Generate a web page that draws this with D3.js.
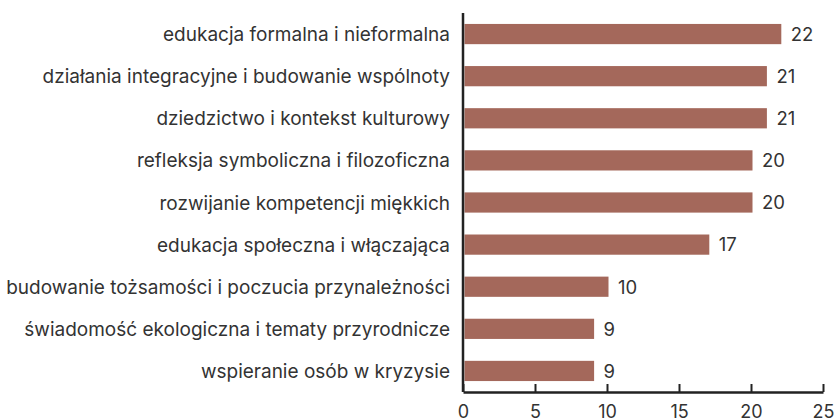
<!DOCTYPE html>
<html>
<head>
<meta charset="utf-8">
<script src="https://cdn.jsdelivr.net/npm/d3@7"></script>
<style>
  body { margin: 0; background: #fff; }
  svg { display: block; }
</style>
</head>
<body>
<div class="chart"></div>
<script>
const categories = [
    "edukacja formalna i nieformalna",
    "działania integracyjne i budowanie wspólnoty",
    "dziedzictwo i kontekst kulturowy",
    "refleksja symboliczna i filozoficzna",
    "rozwijanie kompetencji miękkich",
    "edukacja społeczna i włączająca",
    "budowanie tożsamości i poczucia przynależności",
    "świadomość ekologiczna i tematy przyrodnicze",
    "wspieranie osób w kryzysie"
];
const values = [22, 21, 21, 20, 20, 17, 10, 9, 9];
const xTicks = [0, 5, 10, 15, 20, 25];

const svgWidth = 837;
const svgHeight = 419;
const plotLeft = 463, plotRight = 823, plotTop = 13, plotBottom = 392;
const barColor = "#a4685b";
const font = "Inter, Roboto, sans-serif";

let svg = d3.select(".chart")
    .append("svg")
    .attr("width", svgWidth)
    .attr("height", svgHeight)

let xScale = d3.scaleLinear()
    .domain([0, 25])
    .range([plotLeft, plotRight])

let yScale = d3.scaleBand()
    .domain(categories)
    .range([plotTop, plotBottom])
    .paddingInner(0.52)
    .paddingOuter(0.26)

const data = categories.map((c, i) => ({ name: c, value: values[i] }));

svg.selectAll("rect.bar")
    .data(data)
    .enter()
    .append("rect")
    .attr("class", "bar")
    .attr("x", xScale(0) + 1.5)
    .attr("y", d => yScale(d.name))
    .attr("width", d => xScale(d.value) - xScale(0))
    .attr("height", yScale.bandwidth())
    .style("fill", barColor)

// value labels
svg.selectAll("text.value")
    .data(data)
    .enter()
    .append("text")
    .attr("class", "value")
    .attr("x", d => xScale(d.value) + 11)
    .attr("y", d => yScale(d.name) + yScale.bandwidth() / 2)
    .attr("dy", "0.37em")
    .style("font-family", font)
    .style("font-size", "18.5px")
    .style("fill", "#333")
    .text(d => d.value)

// category labels
svg.selectAll("text.cat")
    .data(data)
    .enter()
    .append("text")
    .attr("class", "cat")
    .attr("x", 450)
    .attr("y", d => yScale(d.name) + yScale.bandwidth() / 2)
    .attr("dy", "0.37em")
    .attr("text-anchor", "end")
    .style("font-family", font)
    .style("font-size", "19px")
    .style("fill", "#333")
    .text(d => d.name)

// y axis line
svg.append("line")
    .attr("x1", plotLeft).attr("x2", plotLeft)
    .attr("y1", plotTop).attr("y2", plotBottom)
    .style("stroke", "#222")
    .style("stroke-width", 2.5)

// x axis
let xAxis = d3.axisBottom()
    .scale(xScale)
    .tickValues(xTicks)
    .tickSize(-8)
    .tickPadding(13)
    .tickSizeOuter(0)

let xAxisGroup = svg.append("g")
    .attr("transform", `translate(0, ${plotBottom})`)
    .call(xAxis)

xAxisGroup.select(".domain")
    .style("stroke", "#222")
    .style("stroke-width", 2.5)
xAxisGroup.selectAll(".tick line")
    .style("stroke", "#222")
    .style("stroke-width", 2)
xAxisGroup.selectAll(".tick text")
    .style("font-family", font)
    .style("font-size", "18px")
    .style("fill", "#333")
</script>
</body>
</html>
